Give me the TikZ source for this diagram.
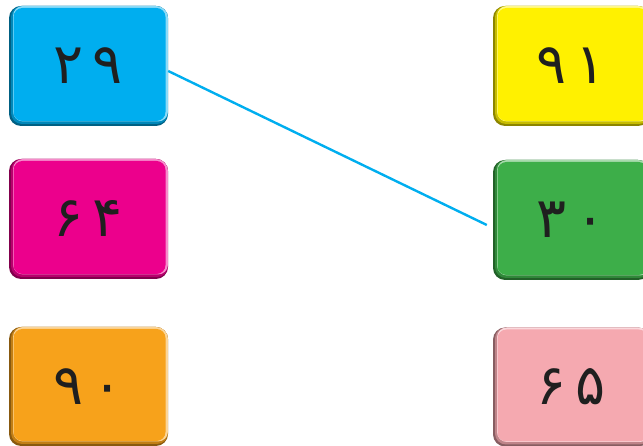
\documentclass[tikz,border=0pt]{standalone}
\usepackage{fontspec}
\newfontfamily\fa[Script=Arabic]{DejaVu Sans}
\definecolor{ccyan}{HTML}{00AEEF}
\definecolor{cmag}{HTML}{EC008C}
\definecolor{corange}{HTML}{F7A21B}
\definecolor{cyellow}{HTML}{FFF100}
\definecolor{cgreen}{HTML}{3DAE49}
\definecolor{cpink}{HTML}{F5A9B0}
\tikzset{
  keybox/.style={rounded corners=12pt, inner sep=0pt, fill=#1!55!black,
    font=\fa\fontsize{56}{56}\selectfont, text=black!88,
    path picture={
      \fill[#1!78!black, rounded corners=11pt]
        ([xshift=2pt,yshift=2pt]path picture bounding box.south west) rectangle (path picture bounding box.north east);
      \fill[#1!45!white, rounded corners=10pt]
        ([xshift=4pt,yshift=4.5pt]path picture bounding box.south west) rectangle (path picture bounding box.north east);
      \fill[#1, rounded corners=9pt]
        ([xshift=4.5pt,yshift=5pt]path picture bounding box.south west) rectangle ([xshift=-2.5pt,yshift=-2pt]path picture bounding box.north east);
    }},
  leftbox/.style={keybox=#1, minimum width=159pt, minimum height=120pt},
  rightbox/.style={keybox=#1, minimum width=157pt, minimum height=120pt},
  link/.style={draw=ccyan, line width=2.4pt}
}
\begin{document}
\begin{tikzpicture}[x=1pt,y=1pt]
\useasboundingbox (0,0) rectangle (643,446);
\node[leftbox=ccyan] (n29) at (88.5,380) {۲\kern9pt۹};
\node[leftbox=cmag] (n64) at (88.5,227) {۶\kern9pt۴};
\node[leftbox=corange, minimum height=119pt] (n90) at (88.5,59.5) {۹\kern9pt۰};
\node[rightbox=cyellow] (n91) at (571.5,380) {۹\kern9pt۱};
\node[rightbox=cgreen] (n30) at (571.5,226) {۳\kern9pt۰};
\node[rightbox=cpink, minimum height=119pt] (n65) at (571.5,59) {۶\kern9pt۵};
\draw[link] ([yshift=-5pt]n29.east) -- ([xshift=-6pt,yshift=-5pt]n30.west);
\end{tikzpicture}
\end{document}
